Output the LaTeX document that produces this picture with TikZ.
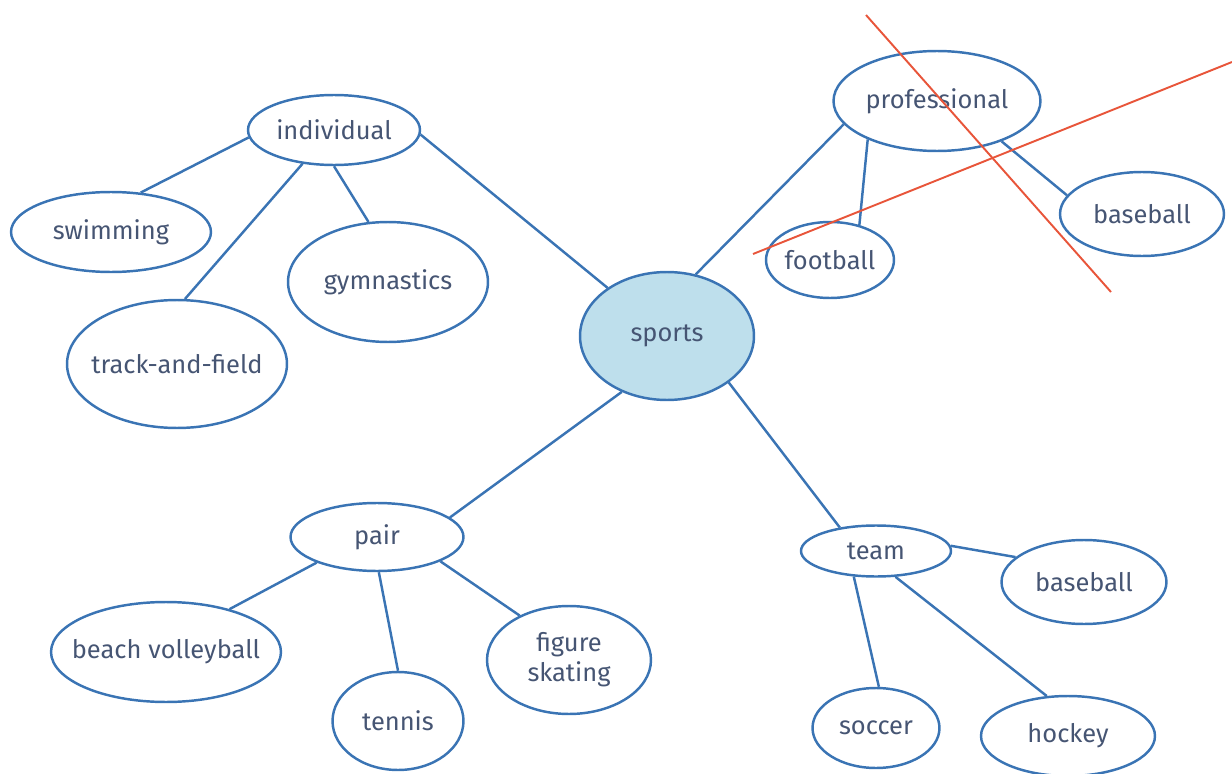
\documentclass[tikz,border=0pt]{standalone}
\usepackage{fontspec}
\setmainfont{Fira Sans}
\usetikzlibrary{shapes.geometric}
\definecolor{mapblue}{HTML}{3A74B4}
\definecolor{mapink}{HTML}{465573}
\definecolor{mapfill}{HTML}{BEDFEC}
\definecolor{crossred}{HTML}{E8553A}

\begin{document}
\begin{tikzpicture}[x=0.02cm,y=-0.02cm, line width=1.4pt,
  bubble/.style={ellipse, draw=mapblue, line width=1.4pt, inner ysep=0pt, inner xsep=-0.3cm,
    text=mapink, font=\fontsize{14.5}{17}\selectfont, align=center},
  crossout/.style={draw=crossred, line width=1.1pt}]
  \useasboundingbox (0,0) rectangle (1232,774);

  \node[bubble,fill=mapfill,minimum width=3.48cm,minimum height=2.56cm] (sports) at (667,336) {sports};

  \node[bubble,minimum width=3.44cm,minimum height=1.4cm]  (indiv) at (334,130) {individual};
  \node[bubble,minimum width=4cm,minimum height=1.6cm]     (swim)  at (111,232) {swimming};
  \node[bubble,minimum width=4cm,minimum height=2.4cm]     (gym)   at (388,282) {gymnastics};
  \node[bubble,minimum width=4.4cm,minimum height=2.56cm]  (track) at (177,364) {track-and-field};

  \node[bubble,minimum width=4.14cm,minimum height=2cm]    (prof)  at (937,101) {professional};
  \node[bubble,minimum width=2.56cm,minimum height=1.52cm] (foot)  at (830,260) {football};
  \node[bubble,minimum width=3.28cm,minimum height=1.68cm] (pball) at (1142,214) {baseball};

  \node[bubble,minimum width=3.46cm,minimum height=1.36cm] (pair)  at (377,537) {pair};
  \node[bubble,minimum width=4.6cm,minimum height=2cm]     (beach) at (166,652) {beach volleyball};
  \node[bubble,minimum width=2.62cm,minimum height=1.96cm] (tennis) at (398,721) {tennis};
  \node[bubble,minimum width=3.28cm,minimum height=2.16cm] (figure) at (569,660) {figure\\skating};

  \node[bubble,minimum width=3cm,minimum height=1.02cm]    (team)  at (876,551) {team};
  \node[bubble,minimum width=3.3cm,minimum height=1.68cm]  (tball) at (1084,582) {baseball};
  \node[bubble,minimum width=2.54cm,minimum height=1.6cm]  (soccer) at (876,728) {soccer};
  \node[bubble,minimum width=3.48cm,minimum height=1.6cm]  (hockey) at (1068,736) {hockey};

  \path[draw=mapblue]
    (indiv.357) edge (sports.141)
    (indiv.185) edge (swim.53)
    (indiv.227) edge (track.83)
    (indiv.270) edge (gym.108)
    (sports.65) edge (prof.194)
    (prof.209)  edge (foot.50)
    (prof.328)  edge (pball.166)
    (sports.231) edge (pair.15)
    (pair.203)  edge (beach.34)
    (pair.273)  edge (tennis.90)
    (pair.339)  edge (figure.138)
    (sports.323) edge (team.147)
    (team.4)    edge (tball.160)
    (team.229)  edge (soccer.86)
    (team.307)  edge (hockey.118);

  % crossed out
  \draw[crossout] (866,15) -- (1111,292);
  \draw[crossout] (753,254) -- (1232,62);
\end{tikzpicture}
\end{document}
